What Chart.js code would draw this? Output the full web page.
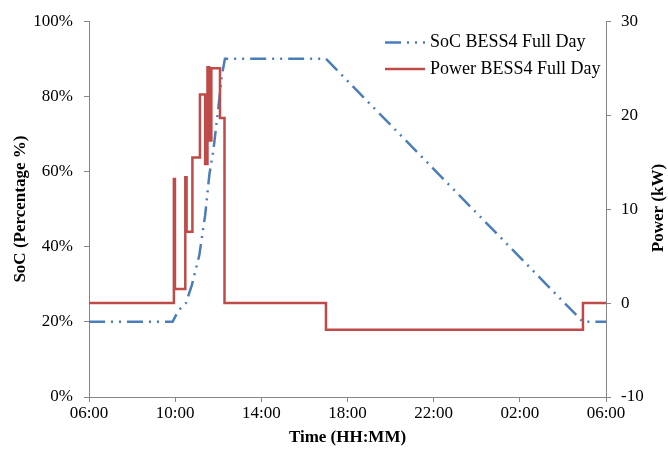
<!DOCTYPE html>
<html>
<head>
<meta charset="utf-8">
<script src="https://cdn.jsdelivr.net/npm/chart.js@4"></script>
<style>
  body { margin: 0; background: #fff; }
  canvas { display: block; }
</style>
</head>
<body>
<canvas id="graficoBess" width="668" height="452"></canvas>
<script>
// horas desde las 06:00
const timeLabels = ['06:00', '10:00', '14:00', '18:00', '22:00', '02:00', '06:00'];

const socTimes  = [0, 3.88, 4.15, 4.5, 4.77, 5.12, 5.39, 5.59, 5.77, 6.0, 6.16, 6.31, 11.0, 22.93, 24];
const socValues = [20, 20, 23, 25, 29.7, 37.7, 48.3, 59.3, 65.5, 76.7, 85.3, 90, 90, 20, 20];

const powerTimes  = [0, 3.94, 3.99, 4.47, 4.53, 4.80, 5.15, 5.39, 5.50, 5.58, 5.68, 6.08, 6.29, 11.0, 22.93, 24];
const powerValues = [0, 13.2, 1.5, 13.4, 7.6, 15.5, 22.2, 14.8, 25.1, 17.3, 25.0, 19.7, 0, -2.85, 0, 0];

const serif = "'Liberation Serif', 'Times New Roman', serif";
const gris = '#868686';

function puntos(xs, ys) {
  return xs.map((x, i) => ({ x: x, y: ys[i] }));
}

// Leyenda dentro del área del gráfico, arriba a la derecha
const leyendaPlugin = {
  id: 'leyendaDentro',
  afterDraw(chart) {
    const ctx = chart.ctx;
    const x0 = 385;
    const filas = [42.5, 69];
    ctx.save();
    chart.data.datasets.forEach((ds, i) => {
      const y = filas[i];
      ctx.strokeStyle = ds.borderColor;
      ctx.lineWidth = ds.borderWidth;
      ctx.setLineDash(ds.borderDash || []);
      ctx.beginPath();
      ctx.moveTo(x0, y);
      ctx.lineTo(x0 + 40, y);
      ctx.stroke();
      ctx.setLineDash([]);
      ctx.fillStyle = '#000';
      ctx.font = '18px ' + serif;
      ctx.textAlign = 'left';
      ctx.textBaseline = 'middle';
      ctx.fillText(ds.label, x0 + 45, y);
    });
    // título del eje derecho, leído de abajo hacia arriba
    ctx.translate(659, 208);
    ctx.rotate(-Math.PI / 2);
    ctx.font = 'bold 17px ' + serif;
    ctx.textAlign = 'center';
    ctx.fillText('Power (kW)', 0, 0);
    ctx.restore();
  }
};

const ctx = document.getElementById('graficoBess').getContext('2d');

new Chart(ctx, {
  type: 'line',
  data: {
    datasets: [{
      label: 'SoC BESS4 Full Day',
      data: puntos(socTimes, socValues),
      yAxisID: 'y',
      borderColor: '#4A7EBB',
      borderWidth: 2.5,
      borderDash: [16, 6, 2, 6, 2, 6],
      pointRadius: 0,
      order: 1
    }, {
      label: 'Power BESS4 Full Day',
      data: puntos(powerTimes, powerValues),
      yAxisID: 'y1',
      borderColor: '#BE4B48',
      borderWidth: 2.5,
      stepped: 'before',
      pointRadius: 0,
      order: 0
    }]
  },
  options: {
    responsive: false,
    animation: false,
    devicePixelRatio: 1,
    layout: { padding: { top: 20, left: 0, right: 0, bottom: 0 } },
    plugins: {
      legend: { display: false },
      tooltip: { enabled: false }
    },
    scales: {
      x: {
        type: 'linear',
        min: 0,
        max: 24,
        afterFit: s => { s.height = 55; },
        afterBuildTicks: s => { s.ticks = timeLabels.map((t, i) => ({ value: i * 4 })); },
        ticks: {
          callback: (v, i) => timeLabels[i],
          color: '#000',
          font: { family: serif, size: 17 },
          padding: 1,
          maxRotation: 0
        },
        grid: { drawOnChartArea: false, tickLength: 5, color: gris },
        border: { color: gris },
        title: {
          display: true,
          text: 'Time (HH:MM)',
          color: '#000',
          font: { family: serif, size: 17, weight: 'bold' },
          padding: { top: 2, bottom: 4 }
        }
      },
      y: {
        position: 'left',
        min: 0,
        max: 100,
        afterFit: s => { s.width = 89; },
        ticks: {
          stepSize: 20,
          callback: v => v + '%',
          color: '#000',
          font: { family: serif, size: 17 },
          padding: 11
        },
        grid: { drawOnChartArea: false, tickLength: 5, color: gris },
        border: { color: gris },
        title: {
          display: true,
          text: 'SoC (Percentage %)',
          color: '#000',
          font: { family: serif, size: 17, weight: 'bold' },
          padding: { top: 10, bottom: 0 }
        }
      },
      y1: {
        position: 'right',
        min: -10,
        max: 30,
        afterFit: s => { s.width = 62; },
        ticks: {
          stepSize: 10,
          color: '#000',
          font: { family: serif, size: 17 },
          padding: 10
        },
        grid: { drawOnChartArea: false, tickLength: 5, color: gris },
        border: { color: gris }
      }
    }
  },
  plugins: [leyendaPlugin]
});
</script>
</body>
</html>
